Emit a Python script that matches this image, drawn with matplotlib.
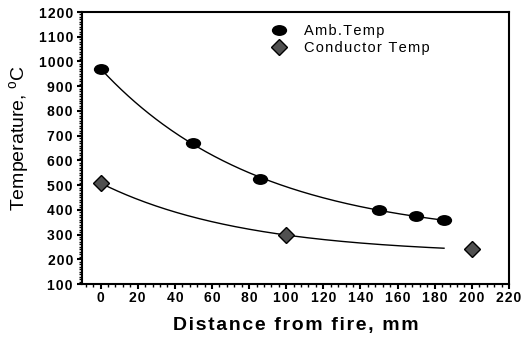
import matplotlib
matplotlib.use("Agg")
import matplotlib.pyplot as plt
import numpy as np
from matplotlib.ticker import MultipleLocator, FuncFormatter
from matplotlib.path import Path
from matplotlib.transforms import Affine2D

plt.rcParams['font.family'] = ['Liberation Sans', 'DejaVu Sans']
plt.rcParams['mathtext.fontset'] = 'custom'
plt.rcParams['mathtext.rm'] = 'Liberation Sans'

amb_x = [0, 50, 86, 150, 170, 185]
amb_y = [970, 670, 525, 398, 375, 358]
cond_x = [0, 100, 200]
cond_y = [508, 298, 240]
amb_fit_end = 185
cond_fit_end = 185

HS = "\u200a"


def spaced(s):
    return HS.join(s)


def exp_fit(x, y):
    # y = y0 + A*exp(-x/t), scan t and solve the linear part
    x = np.asarray(x, float)
    y = np.asarray(y, float)
    best = None
    for t in np.linspace(20, 400, 2000):
        M = np.column_stack([np.ones_like(x), np.exp(-x / t)])
        coef, *_ = np.linalg.lstsq(M, y, rcond=None)
        err = np.sum((M @ coef - y) ** 2)
        if best is None or err < best[0]:
            best = (err, coef, t)
    _, (y0, a), t = best
    return lambda xx: y0 + a * np.exp(-xx / t)


ellipse = Path.unit_circle().transformed(Affine2D().scale(1.4, 1.0))

fig = plt.figure(figsize=(5.22, 3.39), dpi=100)
ax = fig.add_axes([82 / 522, 1 - 284 / 339, (509 - 82) / 522, (284 - 12) / 339])

f_amb = exp_fit(amb_x, amb_y)
xs = np.linspace(0, amb_fit_end, 200)
ax.plot(xs, f_amb(xs), color="black", lw=1)
f_cond = exp_fit(cond_x, cond_y)
xs = np.linspace(0, cond_fit_end, 200)
ax.plot(xs, f_cond(xs), color="black", lw=1)

ax.plot(amb_x, amb_y, marker=ellipse, color="black", ms=11, ls="none",
        markeredgewidth=0, label=spaced("Amb.Temp"), zorder=3)
ax.plot(cond_x, cond_y, "D", color="#505050", mec="black", mew=1,
        ms=8, ls="none", label=spaced("Conductor Temp"), zorder=3)

ax.set_xlim(-10, 220)
ax.set_ylim(100, 1200)
ax.xaxis.set_major_locator(MultipleLocator(20))
ax.xaxis.set_minor_locator(MultipleLocator(4))
ax.yaxis.set_major_locator(MultipleLocator(100))
ax.yaxis.set_minor_locator(MultipleLocator(10))
fmt = FuncFormatter(lambda v, p: spaced(f"{v:.0f}"))
ax.xaxis.set_major_formatter(fmt)
ax.yaxis.set_major_formatter(fmt)
ax.tick_params(which="major", direction="out", length=3.5, width=1.5,
               labelsize=10, pad=3)
ax.tick_params(which="minor", direction="out", length=2, width=1)
ax.tick_params(axis="x", which="major", pad=1.5)
for lab in ax.get_xticklabels() + ax.get_yticklabels():
    lab.set_fontweight("bold")
for s in ax.spines.values():
    s.set_linewidth(1.5)

ax.set_xlabel(spaced("Distance from fire, mm"), fontsize=14,
              fontweight="bold")
ax.xaxis.set_label_coords(0.5, -0.12)
ax.set_ylabel(r"Temperature, $^{\rm o}$C", fontsize=14)
ax.yaxis.set_label_coords(-0.116, 0.537)

ax.legend(loc="upper left", bbox_to_anchor=(0.411, 0.994), frameon=False,
          fontsize=10.5, handletextpad=1.0, labelspacing=0.22,
          borderaxespad=0.3, handlelength=1.5)

fig.savefig("out.png", dpi=100)
